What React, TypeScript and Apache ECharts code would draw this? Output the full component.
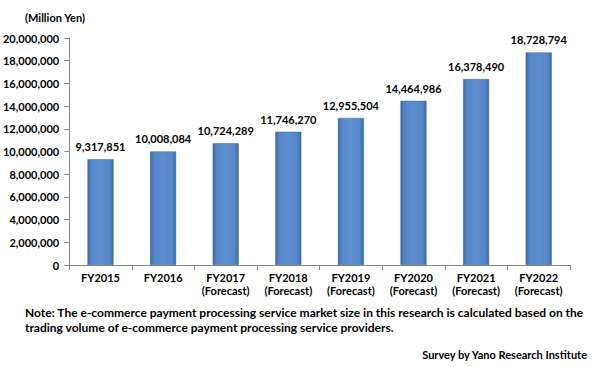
import React, { useEffect, useRef } from "react";
import * as echarts from "echarts";

const categories = [
  "FY2015",
  "FY2016",
  "FY2017\n(Forecast)",
  "FY2018\n(Forecast)",
  "FY2019\n(Forecast)",
  "FY2020\n(Forecast)",
  "FY2021\n(Forecast)",
  "FY2022\n(Forecast)",
];
const values = [9317851, 10008084, 10724289, 11746270, 12955504, 14464986, 16378490, 18728794];
const unitLabel = "(Million Yen)";
const noteLine1 =
  "Note: The e-commerce payment processing service market size in this research is calculated based on the";
const noteLine2 = "trading volume of e-commerce payment processing service providers.";
const sourceText = "Survey by Yano Research Institute";

const FONT = "Lato, 'Open Sans', sans-serif";

export default function App() {
  const ref = useRef<HTMLDivElement>(null);
  useEffect(() => {
    if (!ref.current) return;
    const chart = echarts.init(ref.current, undefined, { renderer: "svg" });
    const fmt = (v: number) => v.toLocaleString("en-US");
    chart.setOption({
      animation: false,
      textStyle: { fontFamily: FONT },
      grid: { left: 68, right: 35, top: 38, bottom: 102, containLabel: false },
      xAxis: {
        type: "category",
        data: categories,
        axisLine: { lineStyle: { color: "#868686", width: 1 } },
        axisTick: { show: true, alignWithLabel: false, length: 5, lineStyle: { color: "#868686" } },
        axisLabel: {
          color: "#000",
          fontWeight: "bold",
          fontSize: 11,
          fontFamily: FONT,
          margin: 6,
          lineHeight: 13,
          interval: 0,
        },
      },
      yAxis: {
        type: "value",
        min: 0,
        max: 20000000,
        interval: 2000000,
        splitLine: { show: false },
        axisLine: { show: true, lineStyle: { color: "#868686", width: 1 } },
        axisTick: { show: true, length: 5, lineStyle: { color: "#868686" } },
        axisLabel: {
          color: "#000",
          fontWeight: "bold",
          fontSize: 11,
          fontFamily: FONT,
          margin: 10,
          formatter: (v: number) => fmt(v),
        },
      },
      series: [
        {
          type: "bar",
          data: values,
          barWidth: 26,
          itemStyle: {
            color: new echarts.graphic.LinearGradient(0, 0, 1, 0, [
              { offset: 0, color: "#3B68A3" },
              { offset: 0.15, color: "#5687C7" },
              { offset: 0.5, color: "#5C8ED0" },
              { offset: 0.85, color: "#5687C7" },
              { offset: 1, color: "#3B68A3" },
            ]),
            borderColor: "#3A66A0",
            borderWidth: 0.5,
          },
          label: {
            show: true,
            position: "top",
            distance: 7,
            color: "#000",
            fontWeight: "bold",
            fontSize: 11,
            fontFamily: FONT,
            formatter: (p: any) => fmt(p.value),
          },
        },
      ],
      graphic: [
        {
          type: "text",
          left: 25,
          top: 12,
          style: { text: unitLabel, font: `bold 11px ${FONT}`, fill: "#000" },
        },
        {
          type: "text",
          left: 25,
          top: 306,
          style: { text: noteLine1, font: `bold 12px ${FONT}`, fill: "#000" },
        },
        {
          type: "text",
          left: 25,
          top: 321,
          style: { text: noteLine2, font: `bold 12px ${FONT}`, fill: "#000" },
        },
        {
          type: "text",
          right: 17,
          top: 349,
          style: { text: sourceText, font: `bold 11px ${FONT}`, fill: "#000" },
        },
      ],
    });
    return () => chart.dispose();
  }, []);
  return <div ref={ref} style={{ width: 605, height: 367, position: "absolute", left: 0, top: 0 }} />;
}
